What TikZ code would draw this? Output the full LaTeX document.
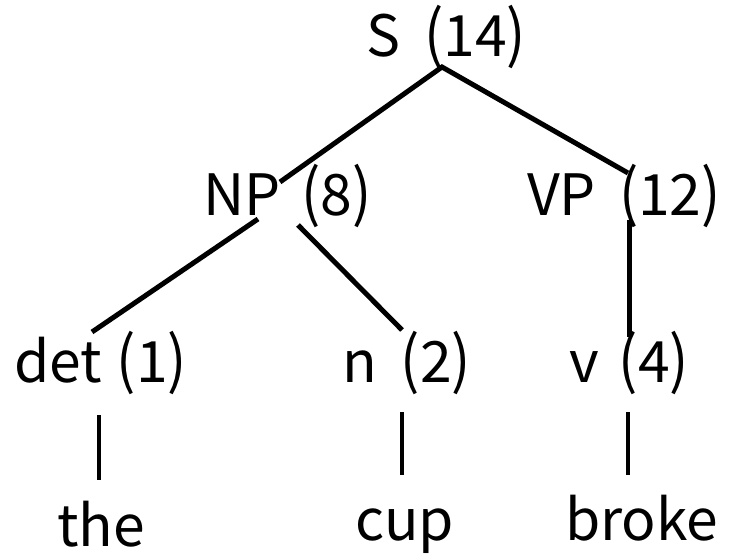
\documentclass[tikz,border=0pt]{standalone}
\usepackage{fontspec}
\usepackage{tikz}
\newfontfamily\treefont{Noto Sans CJK JP}

% count in tall brackets, set a little apart from the category
\newcommand\tall[1]{\scalebox{1}[1.1]{#1}}
\newcommand\cnt[2][20pt]{\hspace{#1}\tall{(}#2\tall{)}}

\tikzset{
  cat/.style={font=\treefont\fontsize{57}{60}\selectfont, anchor=base west, inner sep=0pt},
  branch/.style={line width=5pt, line join=miter},
  leafbar/.style={line width=4.5pt}
}

\begin{document}
\begin{tikzpicture}[x=1pt, y=-1pt]
                \useasboundingbox (0,0) rectangle (744,554);

                % Category labels with their counts
                \node[cat] (s)   at (366, 56)  {S\cnt[24pt]{14}};
                \node[cat] (np)  at (203, 215) {NP\cnt[21pt]{8}};
                \node[cat] (vp)  at (527, 215) {VP\cnt[23pt]{12}};
                \node[cat] (det) at (14, 382)  {det\cnt[15pt]{1}};
                \node[cat] (n)   at (342, 382) {n\cnt[24pt]{2}};
                \node[cat] (v)   at (569, 382) {v\cnt[20pt]{4}};

                % Words
                \node[cat] (the)   at (57, 546)  {the};
                \node[cat] (cup)   at (355, 540) {cup};
                \node[cat] (broke) at (565, 540) {broke};

                % Branch end points
                \coordinate (s-top)    at (442, 67);
                \coordinate (np-in)    at (280, 182);
                \coordinate (vp-in)    at (628, 173);
                \coordinate (np-left)  at (258, 219);
                \coordinate (np-right) at (298, 225);
                \coordinate (vp-out)   at (629, 220);
                \coordinate (det-in)   at (92, 332);
                \coordinate (n-in)     at (402, 330);
                \coordinate (v-in)     at (629, 337);

                % Tree branches
                \draw[branch] (np-in) -- (s-top) -- (vp-in);
                \draw[branch] (np-left) -- (det-in);
                \draw[branch] (np-right) -- (n-in);
                \draw[branch] (vp-out) -- (v-in);

                % Bars down to the words
                \coordinate (det-out) at (99, 415);
                \coordinate (the-in)  at (99, 480);
                \coordinate (n-out)   at (402, 412);
                \coordinate (cup-in)  at (402, 475);
                \coordinate (v-out)   at (628, 412);
                \coordinate (brk-in)  at (628, 475);
                \draw[leafbar] (det-out) -- (the-in);
                \draw[leafbar] (n-out) -- (cup-in);
                \draw[leafbar] (v-out) -- (brk-in);
            \end{tikzpicture}
\end{document}
